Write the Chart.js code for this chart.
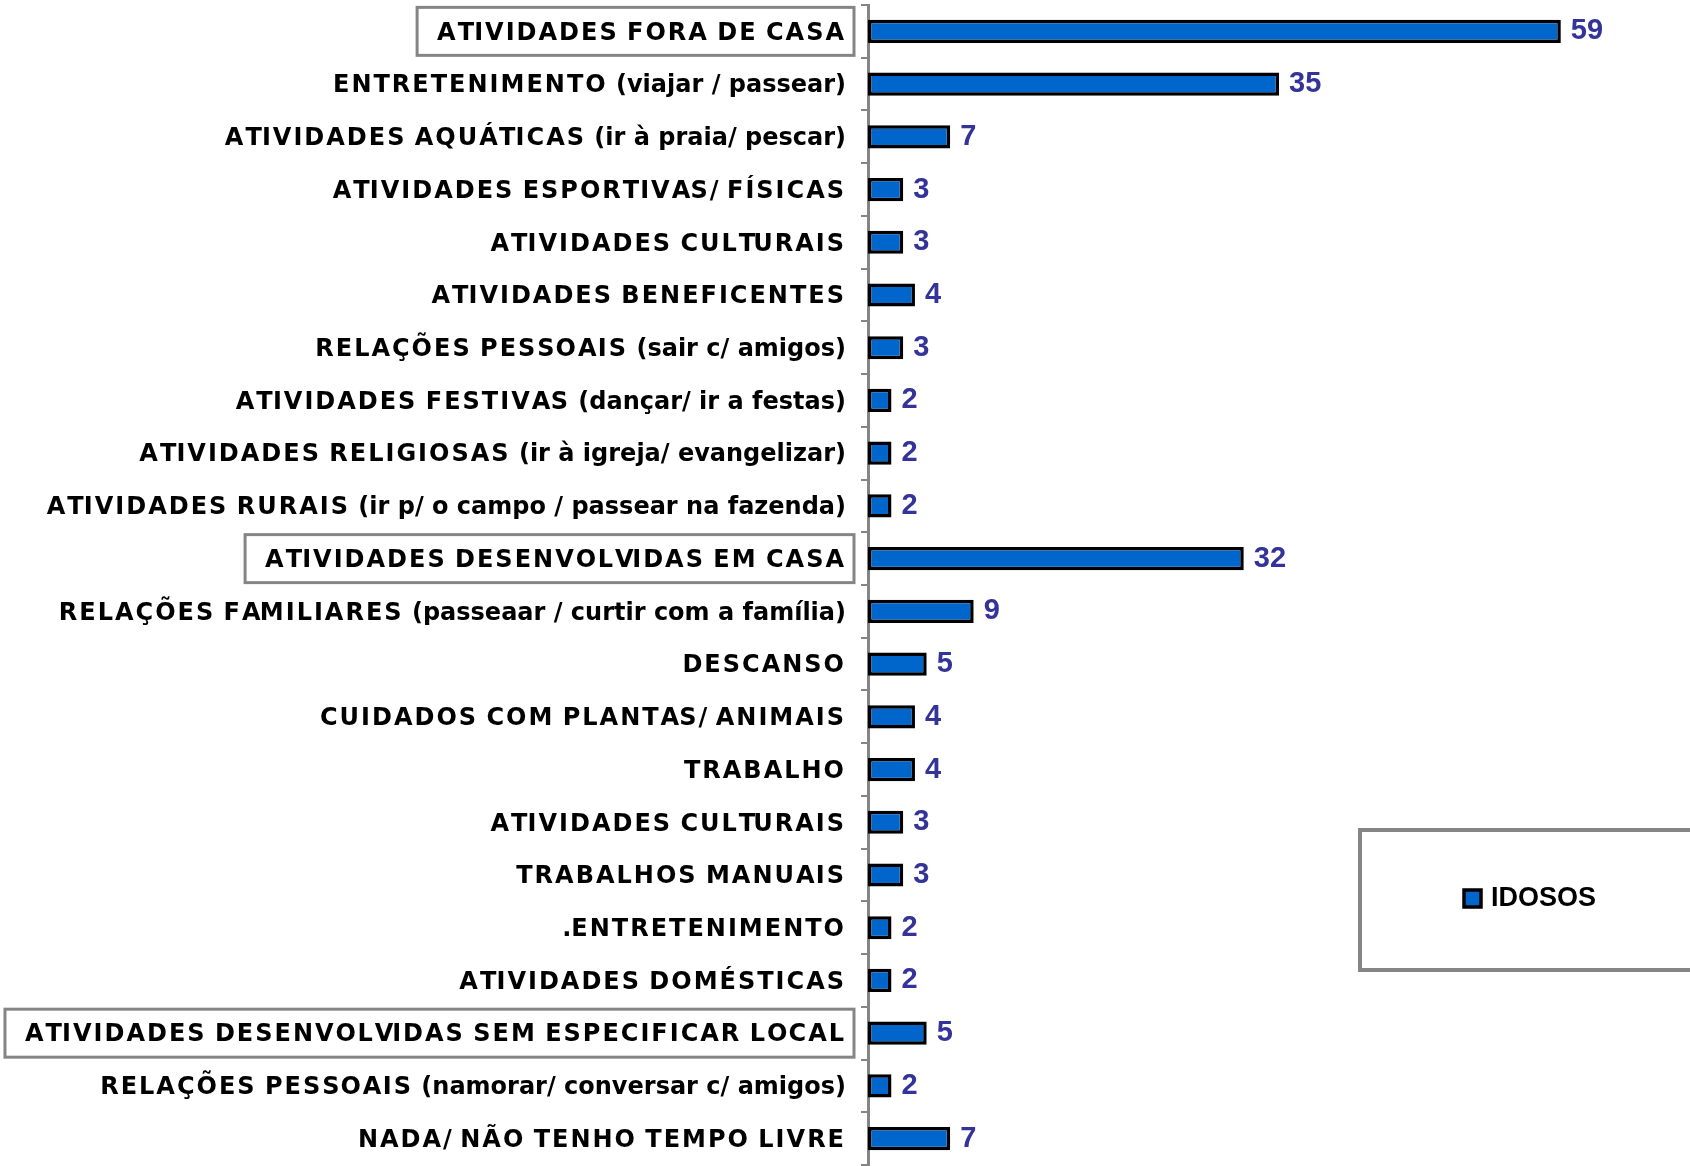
<!DOCTYPE html>
<html>
<head>
  <title>Atividades no tempo livre - idosos</title>
  <script src="https://cdn.jsdelivr.net/npm/chart.js"></script>
  <style>
    html, body {
      margin: 0;
      padding: 0;
      background: #fff;
    }
    #box {
      width: 1690px;
      height: 1166px;
    }
  </style>
</head>
<body>
  <div id="box"><canvas id="chart" width="1690" height="1166"></canvas></div>

  <script>
    var categorias = [
      "ATIVIDADES FORA DE CASA",
      "ENTRETENIMENTO (viajar / passear)",
      "ATIVIDADES AQUÁTICAS (ir à praia/ pescar)",
      "ATIVIDADES ESPORTIVAS/ FÍSICAS",
      "ATIVIDADES CULTURAIS",
      "ATIVIDADES BENEFICENTES",
      "RELAÇÕES PESSOAIS (sair c/ amigos)",
      "ATIVIDADES FESTIVAS (dançar/ ir a festas)",
      "ATIVIDADES RELIGIOSAS (ir à igreja/ evangelizar)",
      "ATIVIDADES RURAIS (ir p/ o campo / passear na fazenda)",
      "ATIVIDADES DESENVOLVIDAS EM CASA",
      "RELAÇÕES FAMILIARES (passeaar / curtir com a família)",
      "DESCANSO",
      "CUIDADOS COM PLANTAS/ ANIMAIS",
      "TRABALHO",
      "ATIVIDADES CULTURAIS",
      "TRABALHOS MANUAIS",
      ".ENTRETENIMENTO",
      "ATIVIDADES DOMÉSTICAS",
      "ATIVIDADES DESENVOLVIDAS SEM ESPECIFICAR LOCAL",
      "RELAÇÕES PESSOAIS (namorar/ conversar c/ amigos)",
      "NADA/ NÃO TENHO TEMPO LIVRE"
    ];
    var idosos = [59, 35, 7, 3, 3, 4, 3, 2, 2, 2, 32, 9, 5, 4, 4, 3, 3, 2, 2, 5, 2, 7];
    // categorias que aparecem dentro de uma caixa (grupos)
    var grupos = [0, 10, 19];
    var serieNome = "IDOSOS";

    var fonteEixo = "bold 24px 'DejaVu Sans'";
    var espacoMaiusc = 2; // as maiusculas ficam mais espaçadas no original
    var textoDireita = 846;

    function ehMaiuscula(c) {
      return c !== c.toLowerCase();
    }

    // posicao x de cada letra a partir da esquerda (0)
    function posicoes(ctx, txt) {
      var xs = [];
      var extra = 0;
      for (var k = 0; k < txt.length; k++) {
        xs.push(ctx.measureText(txt.slice(0, k)).width + extra);
        if (ehMaiuscula(txt[k])) extra += espacoMaiusc;
      }
      var total = ctx.measureText(txt).width + extra;
      return { xs: xs, total: total };
    }

    // rotulos do eixo y desenhados letra a letra
    var rotulos = {
      id: "rotulos",
      afterDraw: function(chart) {
        var ctx = chart.ctx;
        var y = chart.scales.y;
        ctx.save();
        ctx.font = fonteEixo;
        ctx.fillStyle = "#000";
        ctx.textAlign = "left";
        ctx.textBaseline = "middle";
        chart.data.labels.forEach(function(txt, i) {
          var p = posicoes(ctx, txt);
          var x0 = textoDireita - p.total;
          var cy = y.getPixelForTick(i);
          for (var k = 0; k < txt.length; k++) {
            ctx.fillText(txt[k], x0 + p.xs[k], cy + 2);
          }
          if (grupos.indexOf(i) >= 0) {
            var direita = 854;
            var esquerda = x0 - 20;
            ctx.strokeStyle = "#858585";
            ctx.lineWidth = 3;
            ctx.strokeRect(esquerda, cy - 24, direita - esquerda, 48);
          }
        });
        ctx.restore();
      }
    };

    // valores ao lado das barras
    var valores = {
      id: "valores",
      afterDatasetsDraw: function(chart) {
        var ctx = chart.ctx;
        var meta = chart.getDatasetMeta(0);
        ctx.save();
        ctx.font = "bold 29px 'Liberation Sans'";
        ctx.fillStyle = "#333399";
        ctx.textAlign = "left";
        ctx.textBaseline = "middle";
        meta.data.forEach(function(bar, i) {
          ctx.fillText(idosos[i], bar.x + 10, bar.y);
        });
        ctx.restore();
      }
    };

    // legenda desenhada a mao dentro do grafico
    var legenda = {
      id: "legenda",
      afterDraw: function(chart) {
        var ctx = chart.ctx;
        var ds = chart.data.datasets[0];
        ctx.save();
        ctx.strokeStyle = "#858585";
        ctx.lineWidth = 4;
        ctx.strokeRect(1360, 830, 400, 140);
        ctx.fillStyle = ds.backgroundColor;
        ctx.fillRect(1464, 890, 17, 17);
        ctx.strokeStyle = "#000";
        ctx.lineWidth = 3.5;
        ctx.strokeRect(1464, 890, 17, 17);
        ctx.fillStyle = "#000";
        ctx.font = "bold 27px 'Liberation Sans'";
        ctx.textBaseline = "middle";
        ctx.fillText(serieNome, 1491, 899);
        ctx.restore();
      }
    };

    var ctx = document.getElementById("chart").getContext("2d");
    var chart = new Chart(ctx, {
      type: "bar",
      data: {
        labels: categorias,
        datasets: [{
          label: serieNome,
          data: idosos,
          backgroundColor: "#0066CC",
          borderColor: "#000",
          borderWidth: 3.5,
          borderSkipped: false,
          categoryPercentage: 0.88,
          barPercentage: 0.5
        }]
      },
      options: {
        indexAxis: "y",
        responsive: false,
        animation: false,
        layout: {
          padding: { top: 5, bottom: 1, left: 0, right: 0 }
        },
        plugins: {
          legend: { display: false },
          tooltip: { enabled: false }
        },
        scales: {
          x: {
            display: false,
            min: 0,
            max: 70
          },
          y: {
            afterFit: function(scale) {
              scale.width = 868;
              scale.paddingTop = 0;
              scale.paddingBottom = 0;
            },
            ticks: {
              display: false,
              autoSkip: false
            },
            grid: {
              offset: true,
              drawOnChartArea: false,
              color: "#858585",
              lineWidth: 2,
              tickLength: 7
            },
            border: {
              color: "#858585",
              width: 3
            }
          }
        }
      },
      plugins: [rotulos, valores, legenda]
    });
  </script>
</body>
</html>
